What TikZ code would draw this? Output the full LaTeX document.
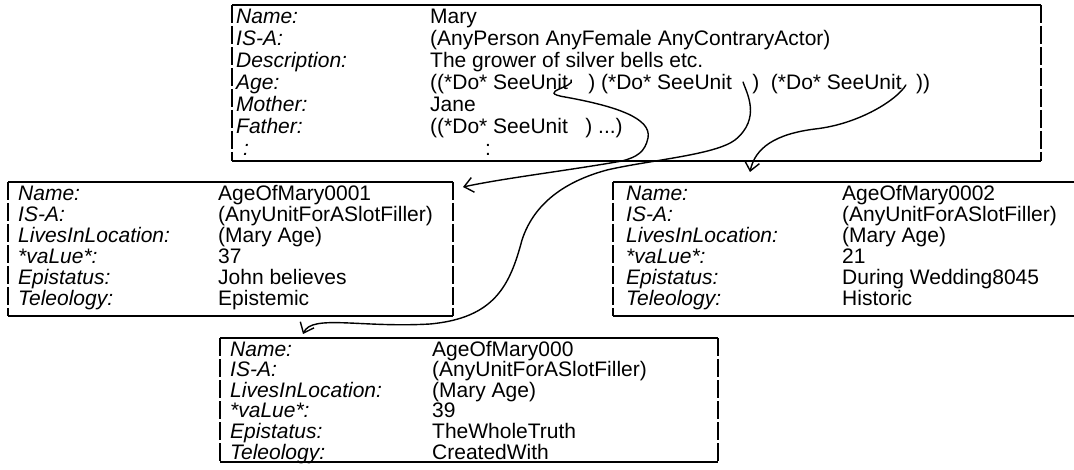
\documentclass[tikz,border=0pt]{standalone}
\usepackage{fontspec}
\setmainfont{Liberation Sans}
\usetikzlibrary{arrows.meta}
\newcommand\slotrow[6]{%
  \node[lbl] (#1l) at (#2,#4) {#5};
  \node[val] (#1v) at (#3,#4) {#6};}
\begin{document}
\begin{tikzpicture}[x=1pt,y=-1pt,
  lbl/.style={anchor=base west, inner sep=0pt, font=\fontsize{21}{21}\selectfont\itshape},
  val/.style={anchor=base west, inner sep=0pt, font=\fontsize{21}{21}\selectfont},
  rule/.style={line width=1.8pt},
  side/.style={line width=1.4pt, dash pattern=on 18pt off 3pt},
  link/.style={line width=1.4pt, line cap=round,
    -{Straight Barb[length=9pt,width=15pt,line width=1.4pt]}}]
\useasboundingbox (0,0) rectangle (1074,470);

% ---- frame Mary ----
\draw[rule] (232,5) -- (1041,5);
\draw[rule] (232,161) -- (1041,161);
\draw[side] (232,5) -- (232,161);
\draw[side] (1041,5) -- (1041,161);
\slotrow{mn}{236}{430}{24}{Name:}{Mary}
\slotrow{mi}{236}{430}{46}{IS-A:}{(AnyPerson AnyFemale AnyContraryActor)}
\slotrow{md}{236}{430}{68}{Description:}{The grower of silver bells etc.}
\node[lbl] (mal) at (236,90) {Age:};
\node[val] (a1) at (430,90) {((*Do* SeeUnit};
\node[val] (a2) at ([xshift=20pt]a1.base east) {) (*Do* SeeUnit};
\node[val] (a3) at ([xshift=20pt]a2.base east) {) \ (*Do* SeeUnit};
\node[val] (a4) at ([xshift=14pt]a3.base east) {))};
\slotrow{mm}{236}{430}{112}{Mother:}{Jane}
\slotrow{mf}{236}{430}{134}{Father:}{((*Do* SeeUnit \ \ ) ...)}
\slotrow{mc}{243}{485}{156}{:}{:}

% ---- frame AgeOfMary0001 ----
\draw[rule] (8,182) -- (453,182);
\draw[rule] (8,316) -- (453,316);
\draw[side] (8,182) -- (8,316);
\draw[side] (453,182) -- (453,316);
\slotrow{ln}{18}{218}{201}{Name:}{AgeOfMary0001}
\slotrow{li}{18}{218}{222}{IS-A:}{(AnyUnitForASlotFiller)}
\slotrow{ll}{18}{218}{243}{LivesInLocation:}{(Mary Age)}
\slotrow{lv}{18}{218}{264}{*vaLue*:}{37}
\slotrow{le}{18}{218}{285}{Epistatus:}{John believes}
\slotrow{lt}{18}{218}{306}{Teleology:}{Epistemic}

% ---- frame AgeOfMary0002 (runs on past the right edge) ----
\draw[rule] (613,182) -- (1074,182);
\draw[rule] (613,316) -- (1074,316);
\draw[side] (613,182) -- (613,316);
\slotrow{rn}{626}{842}{201}{Name:}{AgeOfMary0002}
\slotrow{ri}{626}{842}{222}{IS-A:}{(AnyUnitForASlotFiller)}
\slotrow{rl}{626}{842}{243}{LivesInLocation:}{(Mary Age)}
\slotrow{rv}{626}{842}{264}{*vaLue*:}{21}
\slotrow{re}{626}{842}{285}{Epistatus:}{During Wedding8045}
\slotrow{rt}{626}{842}{306}{Teleology:}{Historic}

% ---- frame AgeOfMary000 ----
\draw[rule] (220,338) -- (718,338);
\draw[rule] (220,462) -- (718,462);
\draw[side] (220,338) -- (220,462);
\draw[side] (718,338) -- (718,462);
\slotrow{cn}{230}{432}{356}{Name:}{AgeOfMary000}
\slotrow{ci}{230}{432}{376.6}{IS-A:}{(AnyUnitForASlotFiller)}
\slotrow{cl}{230}{432}{397.2}{LivesInLocation:}{(Mary Age)}
\slotrow{cv}{230}{432}{417.8}{*vaLue*:}{39}
\slotrow{ce}{230}{432}{438.4}{Epistatus:}{TheWholeTruth}
\slotrow{ct}{230}{432}{459}{Teleology:}{CreatedWith}

% ---- pointers drawn from the Age slot ----
\coordinate (h1) at ([xshift=3pt,yshift=10pt]a1.base east);
\coordinate (h2) at ([xshift=11pt,yshift=8pt]a2.base east);
\coordinate (h3) at ([xshift=4pt,yshift=5pt]a3.base east);
\coordinate (t1) at (463,187);
\coordinate (t2) at (303,334);
\coordinate (t3) at (750,172);

\draw[link] (h1) .. controls ++(5,7) and (535,92) .. (565,97)
  .. controls (615,106) and (652,118) .. (648,138)
  .. controls (645,152) and (637,157) .. (622,161)
  .. controls (565,171) and (505,178) .. (t1);
\draw[link] (h2) .. controls ++(3,10) and (762,118) .. (735,140)
  .. controls (715,155) and (650,160) .. (607,170)
  .. controls (570,180) and (535,200) .. (522,240)
  .. controls (510,285) and (495,318) .. (430,324)
  .. controls (360,328) and (312,314) .. (t2);
\draw[link] (h3) .. controls ++(-8,14) and (860,124) .. (815,129)
  .. controls (775,134) and (755,148) .. (t3);
\end{tikzpicture}
\end{document}
